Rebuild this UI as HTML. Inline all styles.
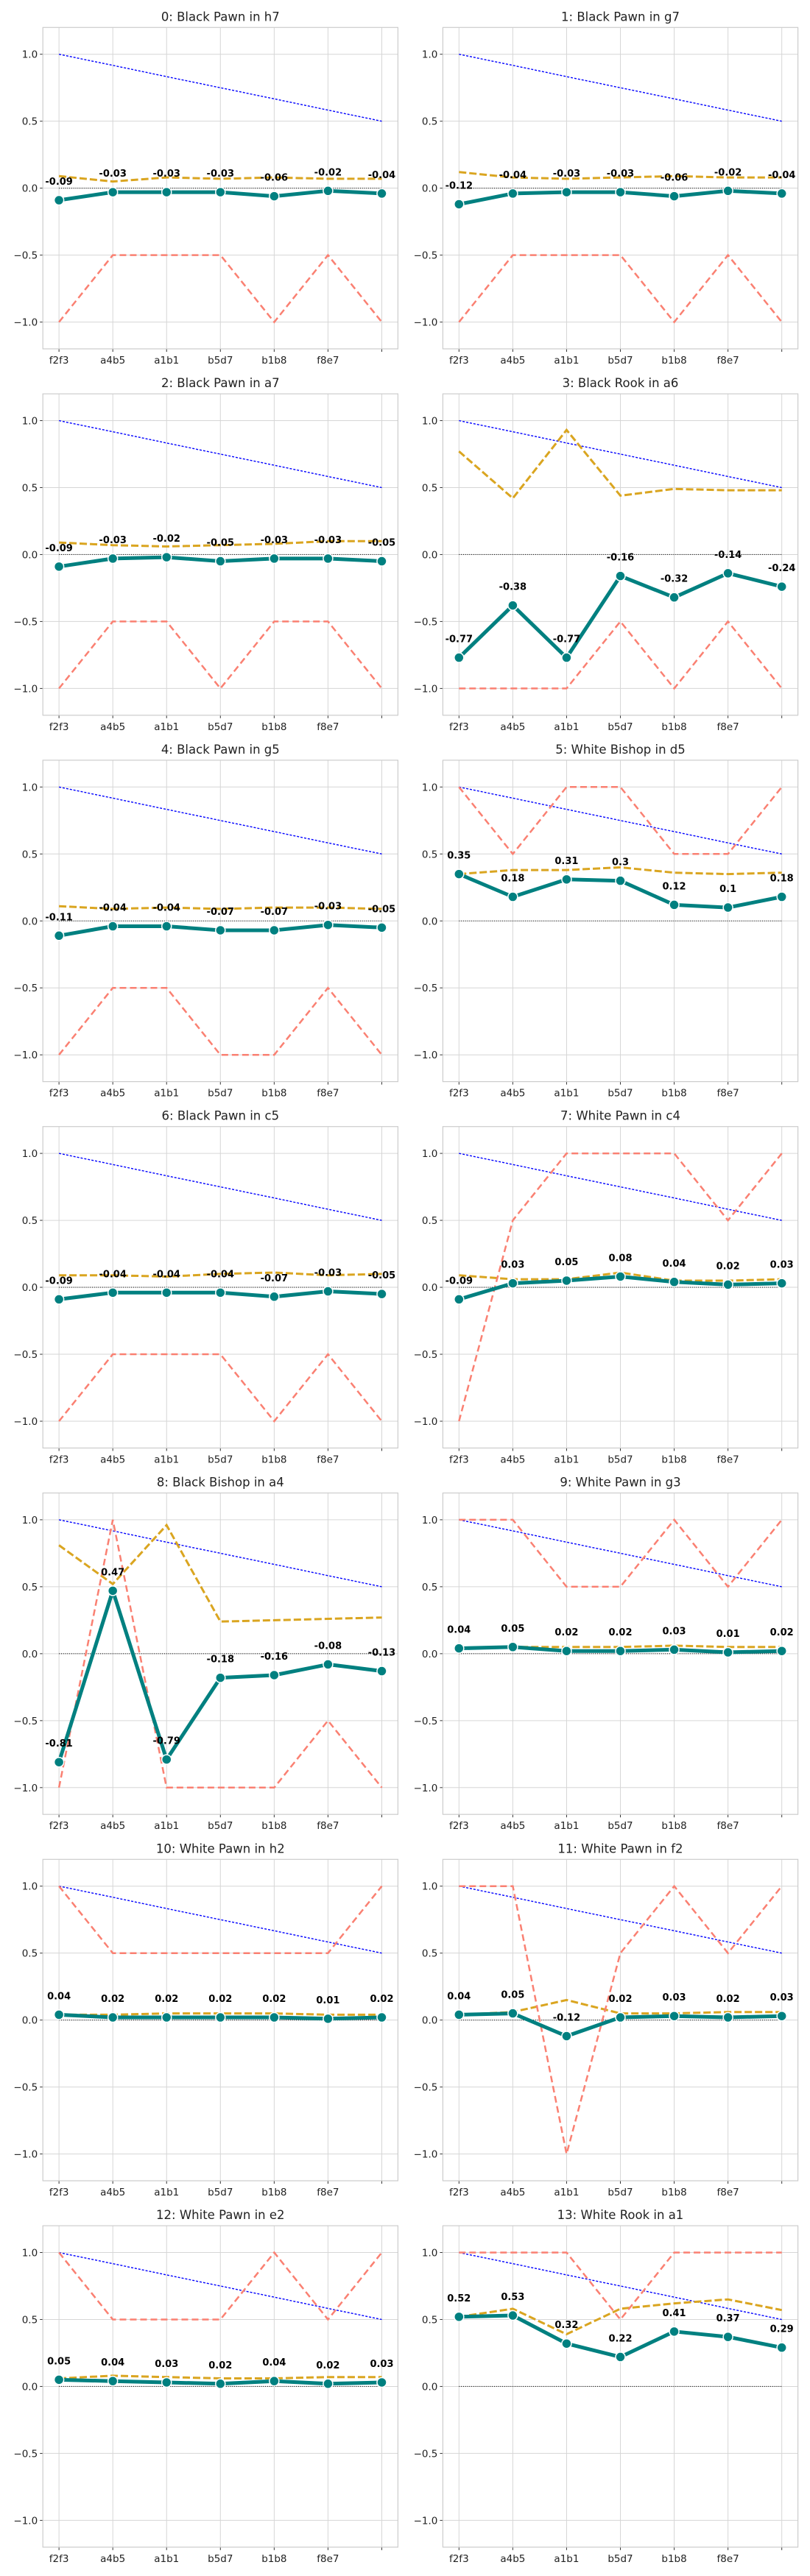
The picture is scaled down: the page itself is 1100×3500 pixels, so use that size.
<!DOCTYPE html>
<html><head><meta charset="utf-8"><style>
html,body{margin:0;padding:0;background:#fff;}
svg{display:block;font-family:"DejaVu Sans","Liberation Sans",sans-serif;}
</style></head><body>
<svg id="chart" width="1100" height="3500" viewBox="0 0 1100 3500" xmlns="http://www.w3.org/2000/svg"></svg>
<script>
const categories = ["f2f3","a4b5","a1b1","b5d7","b1b8","f8e7",""];
const titles = ["0: Black Pawn in h7","1: Black Pawn in g7","2: Black Pawn in a7","3: Black Rook in a6","4: Black Pawn in g5","5: White Bishop in d5","6: Black Pawn in c5","7: White Pawn in c4","8: Black Bishop in a4","9: White Pawn in g3","10: White Pawn in h2","11: White Pawn in f2","12: White Pawn in e2","13: White Rook in a1"];
const yTicks = [-1.0,-0.5,0.0,0.5,1.0];
const yTickLabels = ["\u22121.0","\u22120.5","0.0","0.5","1.0"];
const blueSeries = [1.0,0.917,0.833,0.75,0.667,0.583,0.5];
const tealSeries = [
 [-0.09,-0.03,-0.03,-0.03,-0.06,-0.02,-0.04],
 [-0.12,-0.04,-0.03,-0.03,-0.06,-0.02,-0.04],
 [-0.09,-0.03,-0.02,-0.05,-0.03,-0.03,-0.05],
 [-0.77,-0.38,-0.77,-0.16,-0.32,-0.14,-0.24],
 [-0.11,-0.04,-0.04,-0.07,-0.07,-0.03,-0.05],
 [0.35,0.18,0.31,0.3,0.12,0.1,0.18],
 [-0.09,-0.04,-0.04,-0.04,-0.07,-0.03,-0.05],
 [-0.09,0.03,0.05,0.08,0.04,0.02,0.03],
 [-0.81,0.47,-0.79,-0.18,-0.16,-0.08,-0.13],
 [0.04,0.05,0.02,0.02,0.03,0.01,0.02],
 [0.04,0.02,0.02,0.02,0.02,0.01,0.02],
 [0.04,0.05,-0.12,0.02,0.03,0.02,0.03],
 [0.05,0.04,0.03,0.02,0.04,0.02,0.03],
 [0.52,0.53,0.32,0.22,0.41,0.37,0.29]
];
const orangeSeries = [
 [0.09,0.05,0.08,0.07,0.08,0.07,0.07],
 [0.12,0.08,0.07,0.08,0.09,0.08,0.08],
 [0.09,0.07,0.06,0.07,0.08,0.10,0.10],
 [0.77,0.42,0.93,0.44,0.49,0.48,0.48],
 [0.11,0.09,0.10,0.09,0.10,0.10,0.09],
 [0.35,0.38,0.38,0.40,0.36,0.35,0.36],
 [0.09,0.09,0.08,0.10,0.11,0.09,0.10],
 [0.09,0.06,0.06,0.11,0.05,0.05,0.06],
 [0.81,0.52,0.96,0.24,0.25,0.26,0.27],
 [0.04,0.05,0.05,0.05,0.06,0.05,0.05],
 [0.04,0.04,0.05,0.05,0.05,0.04,0.04],
 [0.04,0.06,0.15,0.05,0.05,0.06,0.06],
 [0.06,0.08,0.07,0.06,0.06,0.07,0.07],
 [0.52,0.58,0.39,0.58,0.62,0.65,0.57]
];
const salmonSeries = [
 [-1,-0.5,-0.5,-0.5,-1,-0.5,-1],
 [-1,-0.5,-0.5,-0.5,-1,-0.5,-1],
 [-1,-0.5,-0.5,-1,-0.5,-0.5,-1],
 [-1,-1,-1,-0.5,-1,-0.5,-1],
 [-1,-0.5,-0.5,-1,-1,-0.5,-1],
 [1,0.5,1,1,0.5,0.5,1],
 [-1,-0.5,-0.5,-0.5,-1,-0.5,-1],
 [-1,0.5,1,1,1,0.5,1],
 [-1,1,-1,-1,-1,-0.5,-1],
 [1,1,0.5,0.5,1,0.5,1],
 [1,0.5,0.5,0.5,0.5,0.5,1],
 [1,1,-1,0.5,1,0.5,1],
 [1,0.5,0.5,0.5,1,0.5,1],
 [1,1,1,0.5,1,1,1]
];

const NS = "http://www.w3.org/2000/svg";
const svg = document.getElementById("chart");
const colLeft = [58.2, 601.4], axW = 482.2, axH = 436.7, top0 = 37.3, rowStep = 497.8;
function mk(tag, attrs, parent) {
  const e = document.createElementNS(NS, tag);
  for (const k in attrs) e.setAttribute(k, attrs[k]);
  parent.appendChild(e);
  return e;
}
function fmt(v) { return String(Math.round(v * 100) / 100); }

titles.forEach((title, p) => {
  const col = p % 2, row = Math.floor(p / 2);
  const L = colLeft[col], T = top0 + row * rowStep;
  const xs = i => L + (i + 0.3) / 6.6 * axW;
  const ys = v => T + (1.2 - v) / 2.4 * axH;
  const g = mk("g", {}, svg);
  
  

  const t = mk("text", {x: L + axW / 2, y: T - 9, "text-anchor": "middle", "font-size": "16.5", fill: "#222"}, g);
  
  
  t.textContent = title;

  // grid
  categories.forEach((c, i) => {
    const gl = mk("line", {x1: xs(i), x2: xs(i), y1: T, y2: T + axH, stroke: "#d6d6d6", "stroke-width": 1}, g);
    
    
    const tk = mk("line", {x1: xs(i), x2: xs(i), y1: T + axH, y2: T + axH + 4, stroke: "#333", "stroke-width": 1}, g);
    
    
    const tl = mk("text", {x: xs(i), y: T + axH + 20, "text-anchor": "middle", "font-size": "13.5", fill: "#222"}, g);
    
    
    tl.textContent = c;
  });
  yTicks.forEach((v, k) => {
    const gl = mk("line", {x1: L, x2: L + axW, y1: ys(v), y2: ys(v), stroke: "#d6d6d6", "stroke-width": 1}, g);
    
    
    const tk = mk("line", {x1: L - 4, x2: L, y1: ys(v), y2: ys(v), stroke: "#333", "stroke-width": 1}, g);
    
    
    const tl = mk("text", {x: L - 7, y: ys(v) + 5, "text-anchor": "end", "font-size": "13.5", fill: "#222"}, g);
    
    
    tl.textContent = yTickLabels[k];
  });
  const fr = mk("rect", {x: L, y: T, width: axW, height: axH, fill: "none", stroke: "#cccccc", "stroke-width": 1.2}, g);
  
  

  const pts = arr => arr.map((v, i) => xs(i).toFixed(1) + "," + ys(v).toFixed(1)).join(" ");
  const zl = mk("line", {x1: xs(0), x2: xs(6), y1: ys(0), y2: ys(0), stroke: "#111", "stroke-width": 1.1, "stroke-dasharray": "1,1.8"}, g);
  
  
  const bl = mk("polyline", {points: pts(blueSeries), fill: "none", stroke: "#0000ff", "stroke-width": 1.4, "stroke-dasharray": "3,2"}, g);
  
  
  const ol = mk("polyline", {points: pts(orangeSeries[p]), fill: "none", stroke: "#daa520", "stroke-width": 3, "stroke-dasharray": "10,4"}, g);
  
  
  const sl = mk("polyline", {points: pts(salmonSeries[p]), fill: "none", stroke: "#fa8072", "stroke-width": 2.5, "stroke-dasharray": "9,5"}, g);
  
  
  const tline = mk("polyline", {points: pts(tealSeries[p]), fill: "none", stroke: "#008080", "stroke-width": 5, "stroke-linejoin": "round"}, g);
  
  
  tealSeries[p].forEach((v, i) => {
    const c = mk("circle", {cx: xs(i), cy: ys(v), r: 6.5, fill: "#008080", stroke: "#fff", "stroke-width": 1.5}, g);
    
    
  });
  tealSeries[p].forEach((v, i) => {
    const a = mk("text", {x: xs(i), y: ys(v) - 21, "text-anchor": "middle", "font-size": "13", "font-weight": "bold", fill: "#000"}, g);
    
    
    a.textContent = fmt(v);
  });
});
</script>
</body></html>
